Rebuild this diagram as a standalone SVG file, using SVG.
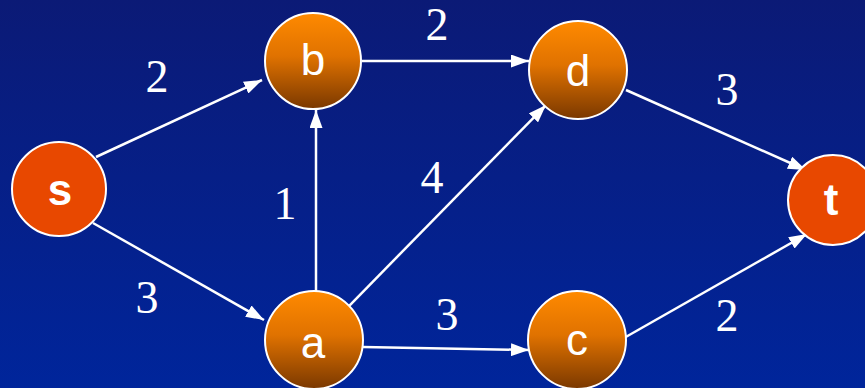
<svg xmlns="http://www.w3.org/2000/svg" width="865" height="388" viewBox="0 0 865 388">
<defs>
<linearGradient id="bg" x1="0" y1="0" x2="0" y2="1">
<stop offset="0" stop-color="#0b1a76"/>
<stop offset="1" stop-color="#00259b"/>
</linearGradient>
<linearGradient id="og" x1="0" y1="0" x2="0" y2="1">
<stop offset="0" stop-color="#ff8a00"/>
<stop offset="0.45" stop-color="#e07200"/>
<stop offset="1" stop-color="#7a3800"/>
</linearGradient>
<marker id="ah" viewBox="0 0 18 13" refX="18" refY="6.5" markerWidth="18" markerHeight="13" markerUnits="userSpaceOnUse" orient="auto">
<path d="M0,0 L18,6.5 L0,13 Z" fill="#fff"/>
</marker>
<style>
.e{stroke:#fff;stroke-width:2.5;fill:none;marker-end:url(#ah)}
.on{fill:url(#og);stroke:#fff;stroke-width:2}
.rn{fill:#e84800;stroke:#fff;stroke-width:2}
.nl{font-family:"Liberation Sans",Arial,sans-serif;font-size:44px;fill:#fff;text-anchor:middle}
.bl{font-weight:bold}
.w{font-family:"Liberation Serif","Times New Roman",serif;font-size:46px;fill:#fff;text-anchor:middle}
</style>
</defs>
<rect width="865" height="388" fill="url(#bg)"/>
<g id="connectors">
<line class="e" x1="96" y1="157" x2="262" y2="80"/>
<line class="e" x1="93" y1="223" x2="264" y2="320"/>
<line class="e" x1="362" y1="61" x2="529" y2="61"/>
<line class="e" x1="316" y1="292" x2="316" y2="110"/>
<line class="e" x1="348" y1="307" x2="546" y2="105"/>
<line class="e" x1="363" y1="347" x2="529" y2="350"/>
<line class="e" x1="626" y1="90" x2="806" y2="170"/>
<line class="e" x1="624" y1="338" x2="807" y2="234"/>
</g>
<g id="weights">
<text class="w" x="157" y="92">2</text>
<text class="w" x="437" y="40">2</text>
<text class="w" x="727" y="105">3</text>
<text class="w" x="285" y="219">1</text>
<text class="w" x="432" y="193">4</text>
<text class="w" x="147" y="313">3</text>
<text class="w" x="447" y="330">3</text>
<text class="w" x="727" y="331">2</text>
</g>
<g id="node-s"><circle class="rn" cx="59" cy="189" r="47"/><text class="nl bl" x="60" y="205">s</text></g>
<g id="node-b"><circle class="on" cx="313" cy="61" r="48"/><text class="nl" x="313" y="75">b</text></g>
<g id="node-a"><circle class="on" cx="314" cy="340" r="49"/><text class="nl" x="313" y="358">a</text></g>
<g id="node-d"><circle class="on" cx="578" cy="70" r="49"/><text class="nl" x="578" y="86">d</text></g>
<g id="node-c"><circle class="on" cx="577" cy="340" r="49"/><text class="nl" x="577" y="355">c</text></g>
<g id="node-t"><circle class="rn" cx="833" cy="200" r="45"/><text class="nl bl" x="831" y="215">t</text></g>
</svg>
